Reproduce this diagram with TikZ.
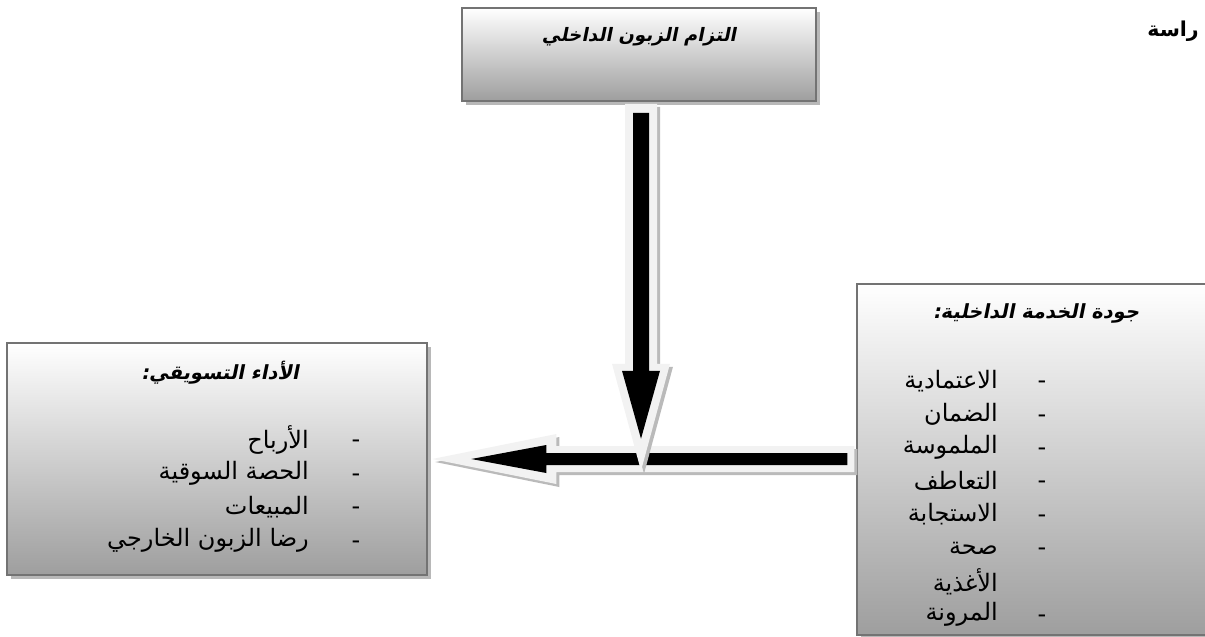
\documentclass[tikz,border=0pt]{standalone}
\usepackage{fontspec}
\usetikzlibrary{calc,shadows}
\TeXXeTstate=1
\newfontfamily\arabicfont[Script=Arabic]{DejaVu Sans}
\newfontfamily\arabichead[Script=Arabic,FakeSlant=0.2]{DejaVu Sans Bold}
\newfontfamily\arabicbold[Script=Arabic]{DejaVu Sans Bold}

\tikzset{
  panel/.style={rectangle, draw=black!55, line width=1.5pt, inner sep=0pt,
    top color=white, bottom color=black!38,
    general shadow={fill=black!28, shadow xshift=4pt, shadow yshift=-4pt}},
  heading/.style={font=\arabichead\fontsize{19.5}{23}\selectfont, inner sep=0pt},
  entry/.style={font=\arabicfont\fontsize{24}{28}\selectfont, anchor=east, inner sep=0pt},
  entrydash/.style={font=\arabicfont\fontsize{24}{28}\selectfont, inner sep=0pt},
  arrowshade/.style={fill=black!27},
  arrowrim/.style={fill=black!5},
  arrowcore/.style={fill=black}
}

\begin{document}
\begin{tikzpicture}[x=1pt,y=-1pt]
\useasboundingbox (0,0) rectangle (1205,637);

% heading word at the top right
\node[font=\arabicbold\fontsize{20.5}{24}\selectfont, anchor=east, inner sep=0pt]
  (study) at (1199,31) {\beginR راسة\endR};

% the three panels
\node[panel, minimum width=354pt, minimum height=93pt] (inner) at (639,54.5) {};
\node[panel, minimum width=420pt, minimum height=232pt] (perf) at (217,459) {};
\node[panel, minimum width=358pt, minimum height=351pt] (quality) at (1036,459.5) {};

% panel titles
\node[heading, font=\arabichead\fontsize{18.5}{22}\selectfont] (innerT) at (639,37) {\beginR التزام الزبون الداخلي\endR};
\node[heading] (perfT) at (220,373) {\beginR الأداء التسويقي:\endR};
\node[heading] (qualityT) at (1036,313) {\beginR جودة الخدمة الداخلية:\endR};

% marketing performance items
\foreach \txt/\yy [count=\i] in {الأرباح/440, الحصة السوقية/473.5, المبيعات/507, رضا الزبون الخارجي/540.5}{
  \node[entry] (p\i) at (309,\yy) {\beginR\txt\endR};
  \node[entrydash] (pd\i) at (356,\yy+4) {-};
}

% internal service quality items
\foreach \txt/\yy [count=\i] in {الاعتمادية/381, الضمان/414.4, الملموسة/447.8, التعاطف/481.2, الاستجابة/514.6, صحة/548, الأغذية/581.4, المرونة/614.8}{
  \node[entry] (q\i) at (998,\yy) {\beginR\txt\endR};
}
\foreach \yy [count=\i] in {381, 414.4, 447.8, 481.2, 514.6, 548, 614.8}{
  \node[entrydash] (qd\i) at (1042,\yy+4) {-};
}

% horizontal block arrow: from the quality panel to the performance panel
\coordinate (hTail) at ($(quality.west)+(-2,-0.5)$);
\begin{scope}[shift={(hTail)}]
  \fill[arrowshade] (3,-10) -- (-295,-10) -- (-295,-22) -- (-419,3) -- (-295,28) -- (-295,16) -- (3,16) -- cycle;
  \fill[arrowrim] (0,-13) -- (-298,-13) -- (-298,-25) -- (-422,0) -- (-298,25) -- (-298,13) -- (0,13) -- cycle;
  \fill[arrowcore] (-7,-6) -- (-308,-6) -- (-308,-14) -- (-383,0) -- (-308,14) -- (-308,6) -- (-7,6) -- cycle;
\end{scope}

% vertical block arrow: from the internal commitment panel down onto the flow
\coordinate (vTop) at ($(inner.south)+(2,2)$);
\begin{scope}[shift={(vTop)}]
  \fill[arrowshade] (-13,3) -- (19,3) -- (19,263) -- (32,263) -- (3,370) -- (-26,263) -- (-13,263) -- cycle;
  \fill[arrowrim] (-16,0) -- (16,0) -- (16,260) -- (29,260) -- (0,367) -- (-29,260) -- (-16,260) -- cycle;
  \fill[arrowcore] (-8,9) -- (8,9) -- (8,267) -- (19,267) -- (0,335) -- (-19,267) -- (-8,267) -- cycle;
\end{scope}
\end{tikzpicture}
\end{document}
